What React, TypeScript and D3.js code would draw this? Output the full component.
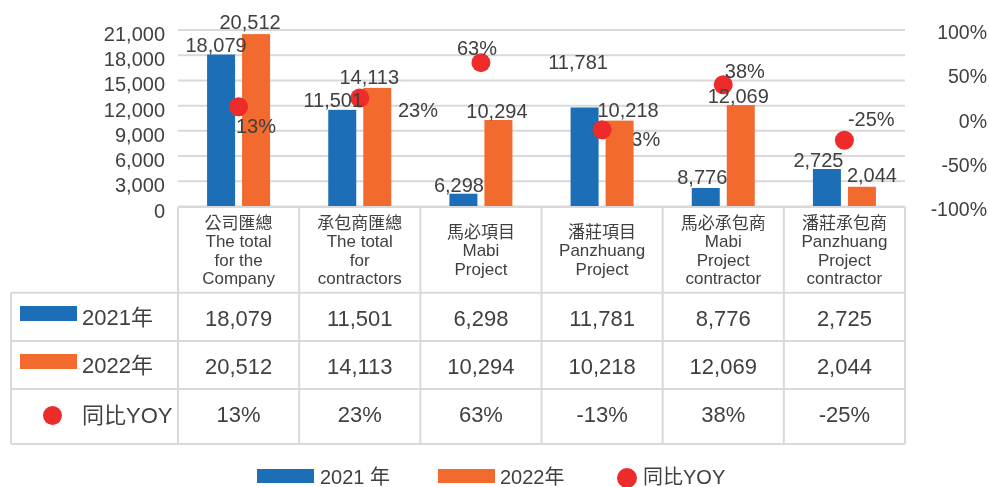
import * as d3 from 'd3';

const categories = ['company', 'contractors', 'mabi', 'panzhuang', 'mabiContractor', 'panzhuangContractor'];
const categoryLines = [
  ['公司匯總', 'The total', 'for the', 'Company'],
  ['承包商匯總', 'The total', 'for', 'contractors'],
  ['馬必項目', 'Mabi', 'Project'],
  ['潘莊項目', 'Panzhuang', 'Project'],
  ['馬必承包商', 'Mabi', 'Project', 'contractor'],
  ['潘莊承包商', 'Panzhuang', 'Project', 'contractor'],
];
// bar heights as drawn in the picture
const bars2021 = [18079, 11501, 1520, 11781, 2200, 4460];
const bars2022 = [20512, 14113, 10294, 10218, 12069, 2350];
// values printed on labels and in the table
const values2021 = [18079, 11501, 6298, 11781, 8776, 2725];
const values2022 = [20512, 14113, 10294, 10218, 12069, 2044];
const yoy = [0.13, 0.23, 0.63, -0.13, 0.38, -0.25];
const leftTicks = [0, 3000, 6000, 9000, 12000, 15000, 18000, 21000];
const rightTicks = [-1, -0.5, 0, 0.5, 1];

// label nudges (layout only)
const nudge2021 = [[-5, -9.5], [-9, -9.5], [-4.5, -9], [-6.5, -45], [-3.5, -11.5], [-8.5, -9.5]];
const nudge2022 = [[-6, -12.5], [-8, -10.5], [-1.5, -9], [8.5, -10.5], [-2.5, -9.5], [10, -11.5]];
const yoyNudge = [[17.4, 19.2], [58.2, 12], [-4, -14.2], [34.8, 8.8], [21.6, -14.2], [26.9, -21.8]];

const BLUE = '#1C6EB6';
const ORANGE = '#F26A2D';
const RED = '#EE2B2B';
const TEXT = '#404040';
const GRID = '#d9d9d9';
const FONT = '"Liberation Sans", Arial, "Noto Sans CJK TC", sans-serif';

const W = 989;
const H = 487;
const plotLeft = 178;
const plotRight = 905;
const tableLeft = 11;
const rowLines = [292.7, 341, 389, 444];

export default function App() {
  const x = d3.scaleBand<string>().domain(categories).range([plotLeft, plotRight]);
  const bw = x.bandwidth();
  const x1 = d3.scaleBand<string>().domain(['2021', '2022']).range([bw / 2 - 31.5, bw / 2 + 31.5]).paddingInner(0.2);
  const y = d3.scaleLinear().domain([0, 21000]).range([206.5, 30]);
  const y2 = d3.scaleLinear().domain([-1, 1]).range([206.5, 30]);
  const fmt = d3.format(',');
  const pctRaw = d3.format('.0%');
  const pct = (v: number) => pctRaw(v).replace('−', '-');

  const cx = (i: number) => (x(categories[i]) ?? 0) + bw / 2;
  const series = [
    { key: '2021', bars: bars2021, vals: values2021, color: BLUE, nudge: nudge2021 },
    { key: '2022', bars: bars2022, vals: values2022, color: ORANGE, nudge: nudge2022 },
  ];

  const yoyLabel = (d: number, i: number) => (
    <text key={'yl' + i} x={cx(i) + yoyNudge[i][0]} y={y2(d) + yoyNudge[i][1]} dy="0.35em"
      textAnchor="middle" fontSize={20} fill={TEXT}>{pct(d)}</text>
  );

  return (
    <div style={{ position: 'fixed', left: 0, top: 0 }}>
      <svg width={W} height={H} style={{ display: 'block', fontFamily: FONT }}>
        {/* grid */}
        {leftTicks.map(t => (
          <line key={'g' + t} x1={plotLeft} x2={plotRight} y1={y(t)} y2={y(t)} stroke={GRID} strokeWidth={2} />
        ))}
        {/* left axis */}
        {leftTicks.map(t => (
          <text key={'l' + t} x={165} y={y(t) + 4} dy="0.35em" textAnchor="end" fontSize={20} fill={TEXT}>{fmt(t)}</text>
        ))}
        {/* right axis */}
        {rightTicks.map(t => (
          <text key={'r' + t} x={987} y={y2(t) + 2.5} dy="0.35em" textAnchor="end" fontSize={19.5} fill={TEXT}>{pct(t)}</text>
        ))}

        {/* negative label that sits behind the bars */}
        {yoy.map((d, i) => (i === 3 ? yoyLabel(d, i) : null))}

        {/* bars */}
        {series.map(s => s.bars.map((v, i) => (
          <rect key={s.key + i} x={(x(categories[i]) ?? 0) + (x1(s.key) ?? 0)} y={y(v)}
            width={x1.bandwidth()} height={y(0) - y(v)} fill={s.color} />
        )))}

        {/* yoy dots */}
        {yoy.map((d, i) => (
          <circle key={'d' + i} cx={cx(i)} cy={y2(d)} r={9.5} fill={RED} />
        ))}

        {/* bar labels */}
        {series.map(s => s.bars.map((v, i) => (
          <text key={'bl' + s.key + i}
            x={(x(categories[i]) ?? 0) + (x1(s.key) ?? 0) + x1.bandwidth() / 2 + s.nudge[i][0]}
            y={y(v) + s.nudge[i][1]} dy="0.35em" textAnchor="middle" fontSize={20} fill={TEXT}>
            {fmt(s.vals[i])}
          </text>
        )))}
        {yoy.map((d, i) => (i === 3 ? null : yoyLabel(d, i)))}

        {/* table lines */}
        <line x1={plotLeft} x2={plotRight} y1={207} y2={207} stroke={GRID} strokeWidth={2} />
        {rowLines.map(r => (
          <line key={'rl' + r} x1={tableLeft} x2={plotRight} y1={r} y2={r} stroke={GRID} strokeWidth={2} />
        ))}
        <line x1={tableLeft} x2={tableLeft} y1={rowLines[0]} y2={rowLines[3]} stroke={GRID} strokeWidth={2} />
        {categories.map(c => (
          <line key={'vl' + c} x1={x(c)} x2={x(c)} y1={207} y2={rowLines[3]} stroke={GRID} strokeWidth={2} />
        ))}
        <line x1={plotRight} x2={plotRight} y1={207} y2={rowLines[3]} stroke={GRID} strokeWidth={2} />

        {/* category headers */}
        {categoryLines.map((lines, i) => {
          const lh = 18.5;
          const top = 250.5 - (lines.length - 1) * lh / 2;
          return lines.map((t, j) => (
            <text key={'c' + i + j} x={cx(i)} y={top + j * lh} dy="0.35em" textAnchor="middle" fontSize={17} fill={TEXT}>{t}</text>
          ));
        })}

        {/* table row heads */}
        <rect x={20} y={306} width={57} height={15} fill={BLUE} />
        <text x={82} y={317} dy="0.35em" fontSize={22} fill={TEXT}>2021年</text>
        <rect x={20} y={354} width={57} height={15} fill={ORANGE} />
        <text x={82} y={365} dy="0.35em" fontSize={22} fill={TEXT}>2022年</text>
        <circle cx={52.5} cy={415.5} r={9.5} fill={RED} />
        <text x={82} y={415} dy="0.35em" fontSize={22} fill={TEXT}>同比YOY</text>

        {/* table values */}
        {values2021.map((v, i) => (
          <text key={'t1' + i} x={cx(i)} y={318} dy="0.35em" textAnchor="middle" fontSize={22} fill={TEXT}>{fmt(v)}</text>
        ))}
        {values2022.map((v, i) => (
          <text key={'t2' + i} x={cx(i)} y={366} dy="0.35em" textAnchor="middle" fontSize={22} fill={TEXT}>{fmt(v)}</text>
        ))}
        {yoy.map((v, i) => (
          <text key={'t3' + i} x={cx(i)} y={414.5} dy="0.35em" textAnchor="middle" fontSize={22} fill={TEXT}>{pct(v)}</text>
        ))}

        {/* legend */}
        <rect x={257} y={469} width={57} height={14} fill={BLUE} />
        <text x={320} y={477} dy="0.35em" fontSize={20} fill={TEXT}>2021 年</text>
        <rect x={438} y={469} width={57} height={14} fill={ORANGE} />
        <text x={500} y={477} dy="0.35em" fontSize={20} fill={TEXT}>2022年</text>
        <circle cx={627} cy={478} r={10} fill={RED} />
        <text x={643} y={477} dy="0.35em" fontSize={20} fill={TEXT}>同比YOY</text>
      </svg>
    </div>
  );
}
